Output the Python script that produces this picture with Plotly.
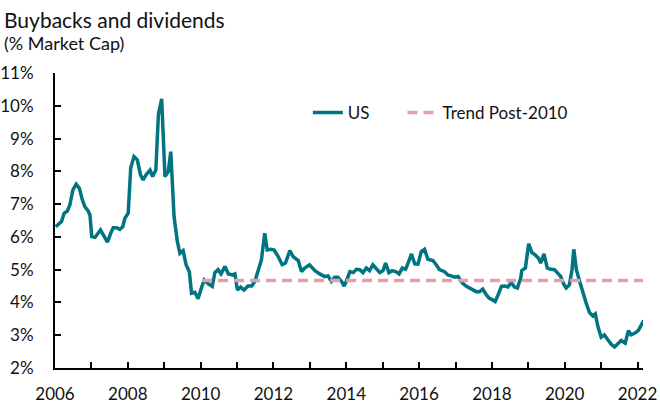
import plotly.graph_objects as go

# ---- data (decimal years, % of market cap) ----
years = [2006.02, 2006.18, 2006.25, 2006.34, 2006.41, 2006.49, 2006.58, 2006.67, 2006.75, 2006.82,
         2006.91, 2006.96, 2007.01, 2007.10, 2007.25, 2007.34, 2007.44, 2007.53, 2007.60, 2007.69,
         2007.78, 2007.86, 2007.92, 2008.01, 2008.08, 2008.17, 2008.26, 2008.35, 2008.42, 2008.51,
         2008.61, 2008.68, 2008.77, 2008.84, 2008.93, 2009.02, 2009.11, 2009.18, 2009.27, 2009.36,
         2009.43, 2009.52, 2009.60, 2009.69, 2009.75, 2009.84, 2009.93, 2010.03, 2010.10, 2010.21,
         2010.32, 2010.39, 2010.48, 2010.56, 2010.67, 2010.76, 2010.87, 2010.94, 2011.01, 2011.10,
         2011.19, 2011.30, 2011.40, 2011.49, 2011.58, 2011.67, 2011.76, 2011.83, 2011.93, 2012.02,
         2012.13, 2012.24, 2012.33, 2012.45, 2012.54, 2012.68, 2012.77, 2012.86, 2012.99, 2013.14,
         2013.27, 2013.41, 2013.50, 2013.59, 2013.68, 2013.77, 2013.87, 2013.94, 2014.00, 2014.10,
         2014.19, 2014.28, 2014.37, 2014.46, 2014.55, 2014.64, 2014.73, 2014.82, 2014.92, 2015.01,
         2015.08, 2015.17, 2015.26, 2015.36, 2015.45, 2015.54, 2015.63, 2015.74, 2015.79, 2015.88,
         2015.97, 2016.06, 2016.15, 2016.24, 2016.38, 2016.47, 2016.56, 2016.70, 2016.79, 2016.88,
         2016.98, 2017.07, 2017.19, 2017.30, 2017.43, 2017.57, 2017.66, 2017.75, 2017.85, 2017.92,
         2017.98, 2018.09, 2018.17, 2018.26, 2018.35, 2018.44, 2018.53, 2018.62, 2018.70, 2018.79,
         2018.82, 2018.92, 2019.01, 2019.10, 2019.19, 2019.28, 2019.34, 2019.43, 2019.52, 2019.61,
         2019.72, 2019.81, 2019.89, 2019.98, 2020.04, 2020.13, 2020.20, 2020.25, 2020.32, 2020.41,
         2020.50, 2020.59, 2020.68, 2020.77, 2020.84, 2020.91, 2021.00, 2021.09, 2021.20, 2021.29,
         2021.37, 2021.46, 2021.55, 2021.66, 2021.75, 2021.82, 2021.92, 2022.02, 2022.10, 2022.17]

us_values = [6.31, 6.47, 6.72, 6.79, 6.98, 7.43, 7.61, 7.48, 7.13, 6.92,
             6.79, 6.67, 6.01, 5.99, 6.21, 6.01, 5.84, 6.11, 6.28, 6.28,
             6.23, 6.31, 6.57, 6.72, 8.11, 8.45, 8.35, 7.89, 7.74, 7.91,
             8.04, 7.84, 8.04, 9.74, 10.21, 7.84, 7.99, 8.60, 6.62, 5.86,
             5.50, 5.58, 5.15, 4.94, 4.28, 4.31, 4.11, 4.47, 4.69, 4.57,
             4.49, 4.91, 5.00, 4.87, 5.10, 4.87, 4.84, 4.87, 4.38, 4.47,
             4.38, 4.50, 4.50, 4.64, 4.94, 5.30, 6.11, 5.60, 5.62, 5.60,
             5.40, 5.15, 5.20, 5.58, 5.40, 5.28, 4.94, 5.05, 5.15, 4.97,
             4.87, 4.79, 4.81, 4.64, 4.77, 4.77, 4.64, 4.50, 4.64, 4.94,
             4.91, 5.01, 5.00, 4.91, 5.05, 4.97, 5.15, 5.05, 4.91, 4.97,
             5.20, 4.91, 4.97, 4.94, 4.87, 5.05, 5.01, 5.32, 5.48, 5.18,
             5.17, 5.55, 5.62, 5.32, 5.28, 5.15, 5.00, 4.94, 4.84, 4.81,
             4.77, 4.79, 4.59, 4.49, 4.41, 4.33, 4.33, 4.41, 4.23, 4.13,
             4.10, 4.03, 4.23, 4.49, 4.50, 4.47, 4.61, 4.47, 4.44, 4.74,
             4.97, 5.05, 5.79, 5.52, 5.45, 5.35, 5.20, 5.48, 5.05, 5.01,
             5.00, 4.89, 4.79, 4.54, 4.44, 4.54, 5.00, 5.62, 5.00, 4.64,
             4.28, 3.98, 3.69, 3.59, 3.65, 3.27, 2.94, 3.01, 2.84, 2.71,
             2.64, 2.76, 2.84, 2.76, 3.14, 3.01, 3.06, 3.14, 3.32, 3.45]

trend_years = [2010.04, 2022.17]
trend_values = [4.67, 4.67]

x_tick_vals = [2006, 2008, 2010, 2012, 2014, 2016, 2018, 2020, 2022]
x_tick_text = ["2006", "2008", "2010", "2012", "2014", "2016", "2018", "2020", "2022"]
y_tick_vals = [2, 3, 4, 5, 6, 7, 8, 9, 10, 11]
y_tick_text = ["2%", "3%", "4%", "5%", "6%", "7%", "8%", "9%", "10%", "11%"]

TEAL = "#007480"
PINK = "#E89DAF"
FONT = "Lato"
TXT = "#111111"

fig = go.Figure()
fig.add_trace(go.Scatter(x=years, y=us_values, mode="lines", name="US",
                         line=dict(color=TEAL, width=3.5), cliponaxis=False,
                         legend="legend"))
fig.add_trace(go.Scatter(x=trend_years, y=trend_values, mode="lines", name="Trend Post-2010",
                         line=dict(color=PINK, width=3.5, dash="10px,6px"), cliponaxis=False,
                         legend="legend2"))

legend_common = dict(orientation="h", y=0.865, xanchor="left", yanchor="middle",
                     font=dict(size=17, family=FONT, color=TXT),
                     bgcolor="rgba(0,0,0,0)", itemwidth=30)

fig.update_layout(
    width=660, height=403,
    margin=dict(l=55, r=16.5, t=73, b=35, autoexpand=False),
    plot_bgcolor="white", paper_bgcolor="white",
    font=dict(family=FONT, size=17, color=TXT),
    showlegend=True,
    legend=dict(x=0.43, **legend_common),
    legend2=dict(x=0.591, **legend_common),
    annotations=[
        dict(text="Buybacks and dividends", xref="paper", yref="paper",
             x=-0.09, y=1.181, xanchor="left", yanchor="middle", showarrow=False,
             font=dict(size=21, family=FONT, color=TXT)),
        dict(text="(% Market Cap)", xref="paper", yref="paper",
             x=-0.09, y=1.103, xanchor="left", yanchor="middle", showarrow=False,
             font=dict(size=18, family=FONT, color=TXT)),
    ],
)

fig.update_xaxes(range=[2006, 2022.15], showgrid=False, zeroline=False, automargin=False,
                 showline=True, linecolor="black", linewidth=2,
                 tickvals=x_tick_vals, ticktext=x_tick_text,
                 ticks="inside", ticklen=6, tickwidth=2, tickcolor="black",
                 minor=dict(dtick=1, tick0=2006, ticks="inside", ticklen=6, tickwidth=2, tickcolor="black"),
                 tickfont=dict(size=17, family=FONT, color=TXT),
                 ticklabelstandoff=10)
fig.update_yaxes(range=[2, 11], showgrid=False, zeroline=False, automargin=False,
                 showline=True, linecolor="black", linewidth=2,
                 tickvals=y_tick_vals, ticktext=y_tick_text,
                 ticks="inside", ticklen=6, tickwidth=2, tickcolor="black",
                 tickfont=dict(size=17, family=FONT, color=TXT),
                 ticklabelstandoff=16)

# remove the default 8px page margin so the figure sits at the page's top-left corner
fig.write_html("out.html", config={"displayModeBar": False},
               post_script="document.body.style.margin='0px';")
